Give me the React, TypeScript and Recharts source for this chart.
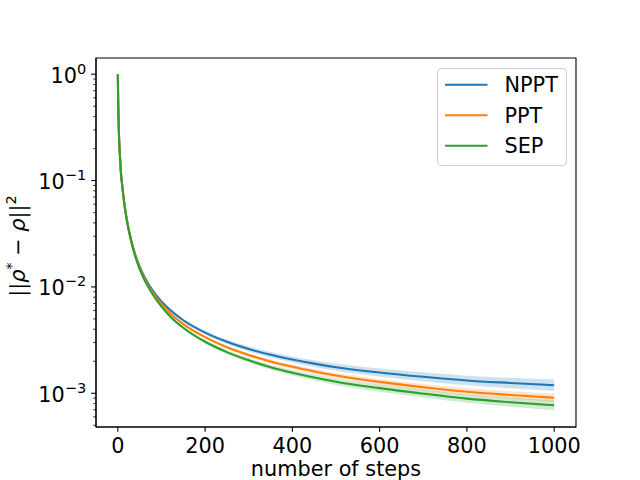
import React from "react";
import { ComposedChart, Line, Area, XAxis, YAxis, ReferenceArea } from "recharts";

const STEPS = [0, 1, 2, 3, 5, 7, 10, 15, 20, 30, 40, 50, 60, 70, 80, 100, 120, 150, 200, 250, 300, 350, 400, 450, 500, 600, 700, 800, 900, 1000];

const NPPT = [1.0, 0.5, 0.33, 0.245, 0.168, 0.12, 0.0905, 0.0607, 0.0448, 0.0284, 0.0202, 0.0156, 0.01268, 0.0107, 0.00925, 0.00731, 0.00607, 0.00486, 0.00372, 0.00305, 0.00261, 0.0023, 0.002075, 0.0019, 0.00176, 0.00157, 0.00143, 0.00132, 0.00125, 0.00119];
const PPT = [1.0, 0.5, 0.33, 0.245, 0.168, 0.12, 0.0905, 0.0601, 0.0441, 0.0278, 0.0197, 0.01513, 0.01224, 0.01027, 0.00883, 0.00691, 0.00566, 0.00447, 0.00337, 0.00271, 0.00229, 0.00199, 0.001774, 0.001606, 0.00147, 0.00128, 0.00114, 0.001032, 0.000964, 0.000908];
const SEP = [1.0, 0.5, 0.33, 0.245, 0.168, 0.12, 0.0905, 0.0598, 0.0437, 0.0274, 0.0193, 0.01474, 0.01188, 0.00993, 0.00849, 0.00654, 0.00528, 0.00413, 0.00305, 0.00244, 0.00204, 0.00176, 0.00156, 0.001406, 0.001285, 0.001118, 0.000991, 0.000891, 0.000825, 0.000772];

// multiplicative half-width of the shaded band
const NPPT_SPREAD = [1.0, 1.0, 1.0, 1.0, 1.004, 1.005, 1.007, 1.008, 1.01, 1.012, 1.014, 1.016, 1.018, 1.02, 1.022, 1.026, 1.03, 1.035, 1.042, 1.048, 1.055, 1.062, 1.068, 1.074, 1.08, 1.09, 1.1, 1.11, 1.12, 1.13];
const PPT_SPREAD = [1.0, 1.0, 1.0, 1.0, 1.003, 1.004, 1.005, 1.006, 1.007, 1.009, 1.01, 1.012, 1.013, 1.015, 1.016, 1.019, 1.022, 1.026, 1.031, 1.036, 1.04, 1.045, 1.05, 1.055, 1.058, 1.065, 1.072, 1.078, 1.084, 1.09];
const SEP_SPREAD = [1.0, 1.0, 1.0, 1.0, 1.004, 1.005, 1.006, 1.007, 1.009, 1.011, 1.013, 1.015, 1.017, 1.018, 1.02, 1.024, 1.028, 1.033, 1.039, 1.045, 1.05, 1.056, 1.062, 1.067, 1.072, 1.08, 1.088, 1.096, 1.105, 1.115];

const SERIES_NAMES = ["NPPT", "PPT", "SEP"];
const SERIES_COLORS = ["#1f77b4", "#ff7f0e", "#2ca02c"];

const X_TICKS = [0, 200, 400, 600, 800, 1000];
const X_DOMAIN = [-50, 1050];
const Y_DOMAIN = [0.000482, 1.42];
const Y_MAJOR = [0.001, 0.01, 0.1, 1];
const Y_MAJOR_EXP = ["\u22123", "\u22122", "\u22121", "0"];
const Y_MINOR = [
  0.0005, 0.0006, 0.0007, 0.0008, 0.0009,
  0.002, 0.003, 0.004, 0.005, 0.006, 0.007, 0.008, 0.009,
  0.02, 0.03, 0.04, 0.05, 0.06, 0.07, 0.08, 0.09,
  0.2, 0.3, 0.4, 0.5, 0.6, 0.7, 0.8, 0.9,
];

const FONT = "DejaVu Sans";
const FS = 20.8;

const VALUES = [NPPT, PPT, SEP];
const SPREADS = [NPPT_SPREAD, PPT_SPREAD, SEP_SPREAD];

const data = STEPS.map((s, i) => {
  const row: any = { step: s };
  SERIES_NAMES.forEach((name, k) => {
    const v = VALUES[k][i];
    const f = SPREADS[k][i];
    row[name] = v;
    row[name + "_band"] = [v / f, v * f];
  });
  return row;
});

const XTick = (props: any) => {
  const { x, y, payload } = props;
  return (
    <g>
      <line x1={x} x2={x} y1={y} y2={y + 4.86} stroke="#000" strokeWidth={1.1} />
      <text x={x} y={y + 25.5} textAnchor="middle" fontFamily={FONT} fontSize={FS} fill="#000">
        {payload.value}
      </text>
    </g>
  );
};

const YTick = (props: any) => {
  const { x, y, payload } = props;
  const idx = Y_MAJOR.findIndex((m) => Math.abs(m - payload.value) / m < 1e-6);
  if (idx < 0) {
    return <line x1={x - 2.8} x2={x} y1={y} y2={y} stroke="#000" strokeWidth={0.8} />;
  }
  return (
    <g>
      <line x1={x - 4.86} x2={x} y1={y} y2={y} stroke="#000" strokeWidth={1.1} />
      <text x={x - 9.7} y={y + 8.5} textAnchor="end" fontFamily={FONT} fontSize={FS} fill="#000">
        <tspan>10</tspan>
        <tspan dy={-9} fontSize={14.6}>{Y_MAJOR_EXP[idx]}</tspan>
      </text>
    </g>
  );
};

const LegendBox = () => (
  <svg width={130} height={98} style={{ display: "block" }}>
    <rect x={0.5} y={0.5} width={129} height={97} rx={4} ry={4} fill="rgba(255,255,255,0.8)" stroke="#cccccc" strokeWidth={1} />
    {SERIES_NAMES.map((name, k) => (
      <g key={name}>
        <line x1={8} x2={50.5} y1={16.7 + k * 30.5} y2={16.7 + k * 30.5} stroke={SERIES_COLORS[k]} strokeWidth={2.08} />
        <text x={67.5} y={16.7 + k * 30.5 + 7.5} fontFamily={FONT} fontSize={FS} fill="#000">
          {name}
        </text>
      </g>
    ))}
  </svg>
);

export default function App() {
  return (
    <div style={{ position: "absolute", left: 0, top: 0, width: 640, height: 480, background: "#fff" }}>
      <ComposedChart width={640} height={480} data={data} margin={{ top: 58, right: 64, bottom: 0, left: 0 }}>
        <XAxis
          dataKey="step"
          type="number"
          domain={X_DOMAIN}
          ticks={X_TICKS}
          allowDataOverflow
          height={53}
          axisLine={{ stroke: "#000", strokeWidth: 1.1 }}
          tickLine={false}
          tickSize={0}
          tickMargin={0}
          tick={<XTick />}
          interval={0}
        />
        <YAxis
          scale="log"
          type="number"
          domain={Y_DOMAIN}
          allowDataOverflow
          ticks={[...Y_MINOR, ...Y_MAJOR].sort((a, b) => a - b)}
          interval={0}
          width={96}
          axisLine={{ stroke: "#000", strokeWidth: 1.1 }}
          tickLine={false}
          tickSize={0}
          tickMargin={0}
          tick={<YTick />}
        />
        {SERIES_NAMES.map((name, k) => [
          <Line
            key={name + "_line"}
            type="monotone"
            dataKey={name}
            name={name}
            stroke={SERIES_COLORS[k]}
            strokeWidth={2.08}
            dot={false}
            activeDot={false}
            isAnimationActive={false}
          />,
          <Area
            key={name + "_area"}
            type="monotone"
            dataKey={name + "_band"}
            stroke="none"
            fill={SERIES_COLORS[k]}
            fillOpacity={0.22}
            legendType="none"
            isAnimationActive={false}
            activeDot={false}
          />,
        ])}
        <ReferenceArea
          x1={X_DOMAIN[0]}
          x2={X_DOMAIN[1]}
          y1={Y_DOMAIN[0]}
          y2={Y_DOMAIN[1]}
          fill="none"
          fillOpacity={0}
          stroke="#000"
          strokeWidth={1.1}
          ifOverflow="visible"
        />
      </ComposedChart>
      <div style={{ position: "absolute", left: 437, top: 68 }}>
        <LegendBox />
      </div>
      <svg width={640} height={480} style={{ position: "absolute", left: 0, top: 0, pointerEvents: "none" }}>
        <text x={336} y={476} textAnchor="middle" fontFamily={FONT} fontSize={FS} fill="#000">
          number of steps
        </text>
        <text transform="translate(25,246) rotate(-90)" textAnchor="middle" fontFamily={FONT} fontSize={FS} fill="#000">
          <tspan>||</tspan>
          <tspan fontStyle="italic">ρ</tspan>
          <tspan dy={-9} fontSize={14.6}>*</tspan>
          <tspan dy={9}>{" \u2212 "}</tspan>
          <tspan fontStyle="italic">ρ</tspan>
          <tspan>||</tspan>
          <tspan dy={-9} fontSize={14.6}>2</tspan>
        </text>
      </svg>
    </div>
  );
}
